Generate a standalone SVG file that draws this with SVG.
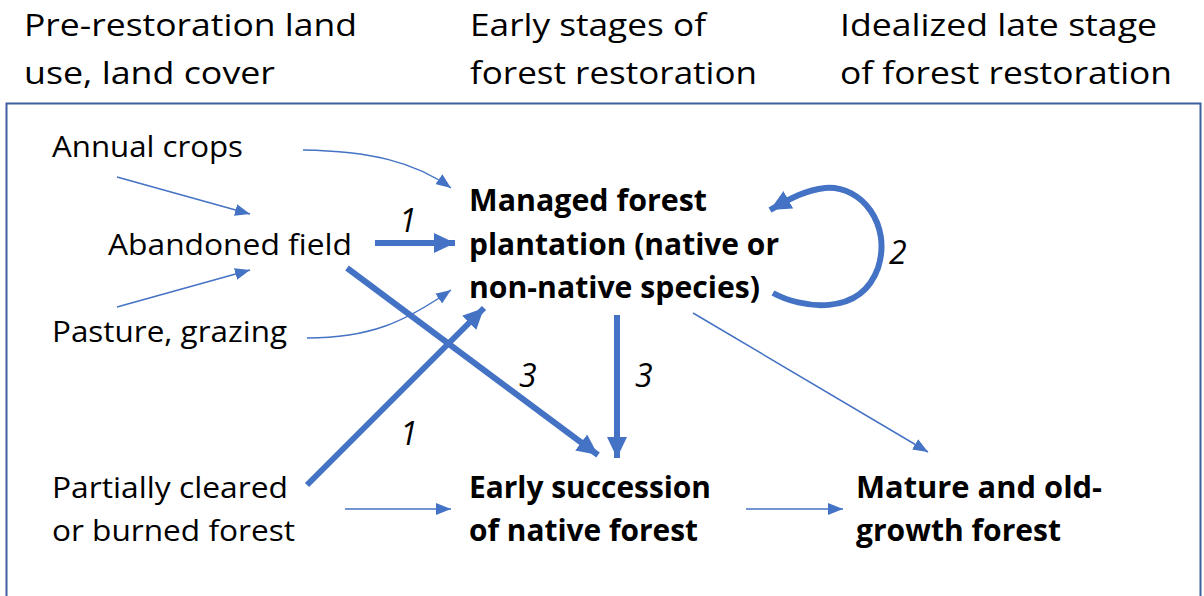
<svg xmlns="http://www.w3.org/2000/svg" width="1204" height="596" viewBox="0 0 1204 596">
<style>
.h{font-family:"Open Sans","Liberation Sans",sans-serif;font-size:31px;fill:#000}
.t{font-family:"Open Sans","Liberation Sans",sans-serif;font-size:29.5px;fill:#000}
.b{font-family:"Open Sans","Liberation Sans",sans-serif;font-size:30px;font-weight:bold;fill:#000}
.n{font-family:"Open Sans","Liberation Sans",sans-serif;font-size:32px;font-style:italic;fill:#000}
.thin{fill:none;stroke:#4472C4;stroke-width:1.5;marker-end:url(#ah)}
.thick{fill:none;stroke:#4472C4;stroke-width:6;marker-end:url(#AH)}
</style>
<defs>
<marker id="ah" markerUnits="userSpaceOnUse" markerWidth="16" markerHeight="12" refX="15" refY="6" orient="auto"><path d="M0,0 L15,6 L0,12 Z" fill="#4472C4"/></marker>
<marker id="AH" markerUnits="userSpaceOnUse" markerWidth="22" markerHeight="20" refX="21" refY="10" orient="auto"><path d="M0,0 L21,10 L0,20 Z" fill="#4472C4"/></marker>
</defs>
<rect x="0" y="0" width="1204" height="596" fill="#fff"/>
<rect x="6.5" y="103.5" width="1194" height="500" fill="none" stroke="#3F5FA0" stroke-width="2"/>
<g id="headers">
<text class="h" x="24" y="36" textLength="333" lengthAdjust="spacingAndGlyphs">Pre-restoration land</text>
<text class="h" x="24" y="84" textLength="251" lengthAdjust="spacingAndGlyphs">use, land cover</text>
<text class="h" x="470" y="36" textLength="236" lengthAdjust="spacingAndGlyphs">Early stages of</text>
<text class="h" x="470" y="84" textLength="287" lengthAdjust="spacingAndGlyphs">forest restoration</text>
<text class="h" x="840" y="36" textLength="317" lengthAdjust="spacingAndGlyphs">Idealized late stage</text>
<text class="h" x="840" y="84" textLength="332" lengthAdjust="spacingAndGlyphs">of forest restoration</text>
</g>
<g id="n-annual"><text class="t" x="52" y="157" textLength="191" lengthAdjust="spacingAndGlyphs">Annual crops</text></g>
<g id="n-abandoned"><text class="t" x="108" y="255" textLength="244" lengthAdjust="spacingAndGlyphs">Abandoned field</text></g>
<g id="n-pasture"><text class="t" x="52" y="342" textLength="235" lengthAdjust="spacingAndGlyphs">Pasture, grazing</text></g>
<g id="n-partial">
<text class="t" x="52" y="498" textLength="236" lengthAdjust="spacingAndGlyphs">Partially cleared</text>
<text class="t" x="52" y="541" textLength="243" lengthAdjust="spacingAndGlyphs">or burned forest</text>
</g>
<g id="n-managed">
<text class="b" x="469" y="211" textLength="238" lengthAdjust="spacingAndGlyphs">Managed forest</text>
<text class="b" x="469" y="255" textLength="310" lengthAdjust="spacingAndGlyphs">plantation (native or</text>
<text class="b" x="469" y="298" textLength="291" lengthAdjust="spacingAndGlyphs">non-native species)</text>
</g>
<g id="n-early">
<text class="b" x="469" y="498" textLength="242" lengthAdjust="spacingAndGlyphs">Early succession</text>
<text class="b" x="469" y="541" textLength="229" lengthAdjust="spacingAndGlyphs">of native forest</text>
</g>
<g id="n-mature">
<text class="b" x="856" y="498" textLength="246" lengthAdjust="spacingAndGlyphs">Mature and old-</text>
<text class="b" x="856" y="541" textLength="205" lengthAdjust="spacingAndGlyphs">growth forest</text>
</g>
<g id="connectors">
<path class="thin" d="M303,150 C370,151 415,162 451,188"/>
<path class="thin" d="M117,177 L250,214"/>
<path class="thin" d="M117,307 L250,270"/>
<path class="thin" d="M307,338 C370,338 405,322 451,290"/>
<path class="thick" d="M375,243 L455,243"/>
<path class="thick" d="M347,268 L598,455"/>
<path class="thick" d="M307,485 L484,308"/>
<path class="thick" d="M617,315 L617,458"/>
<path class="thick" d="M773,293 C800,308 860,318 878,268 C892,225 862,185 825,188 C805,190 788,200 770,210"/>
<path class="thin" d="M693,313 L928,452"/>
<path class="thin" d="M345,509 L451,509"/>
<path class="thin" d="M746,509 L843,509"/>
</g>
<g id="labels">
<text class="n" x="399" y="232">1</text>
<text class="n" x="889" y="264">2</text>
<text class="n" x="519" y="387">3</text>
<text class="n" x="635" y="387">3</text>
<text class="n" x="400" y="445">1</text>
</g>
</svg>
